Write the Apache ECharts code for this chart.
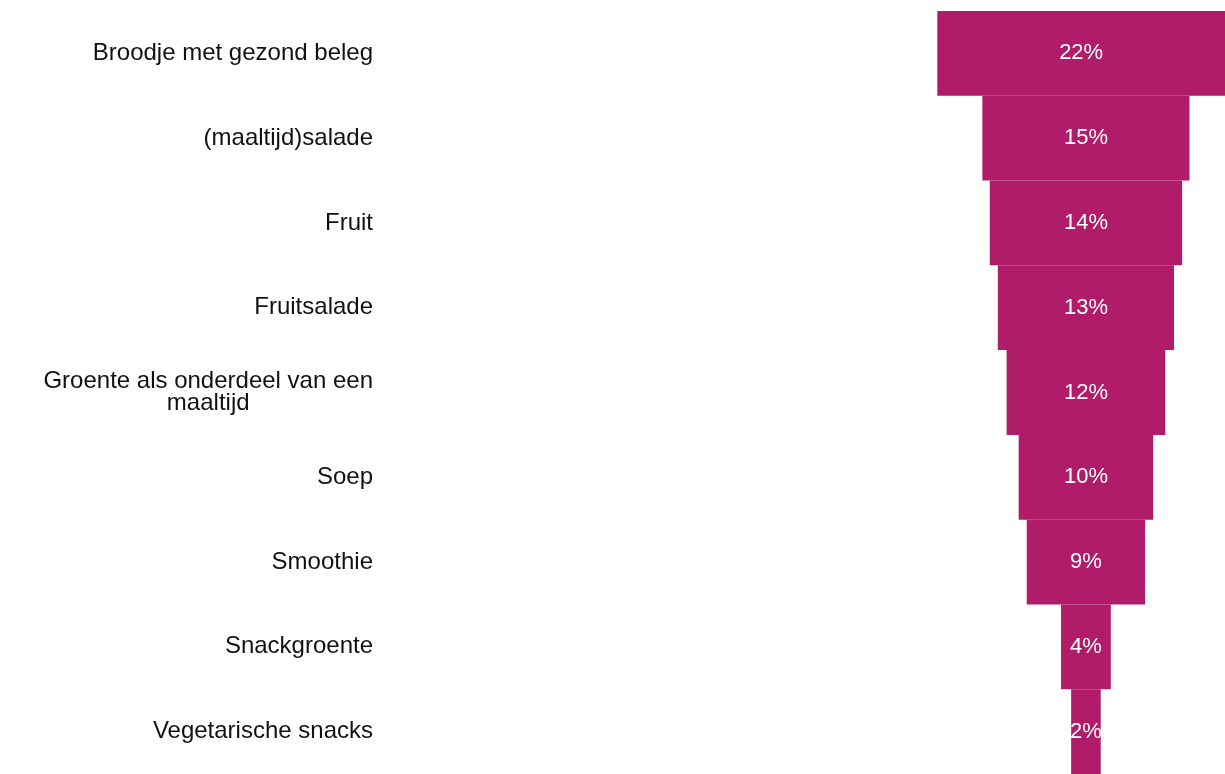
<!DOCTYPE html>
<html>
<head>
<meta charset="utf-8">
<script src="https://cdn.jsdelivr.net/npm/echarts@6/dist/echarts.min.js"></script>
<style>
html,body{margin:0;padding:0;background:#ffffff;}
#chart{width:1225px;height:774px;}
</style>
</head>
<body>
<div id="chart"></div>
<script>
const categories = [
  'Broodje met gezond beleg',
  '(maaltijd)salade',
  'Fruit',
  'Fruitsalade',
  'Groente als onderdeel van een\nmaaltijd',
  'Soep',
  'Smoothie',
  'Snackgroente',
  'Vegetarische snacks'
];
const values = [22.1, 15.4, 14.3, 13.1, 11.8, 10.0, 8.8, 3.7, 2.2];
const valueLabels = ['22%', '15%', '14%', '13%', '12%', '10%', '9%', '4%', '2%'];

const CENTER = 52.04;   // funnel axis centre in value units
const AXIS_MAX = 62.38;

const offsets = values.map(v => CENTER - v / 2);

const chart = echarts.init(document.getElementById('chart'), null, {renderer: 'canvas'});
chart.setOption({
  animation: false,
  backgroundColor: '#ffffff',
  grid: {left: 386, right: 0, top: 11, height: 766, containLabel: false},
  xAxis: {
    type: 'value', min: 0, max: AXIS_MAX, show: false
  },
  yAxis: {
    type: 'category',
    inverse: true,
    data: categories,
    axisLine: {show: false},
    axisTick: {show: false},
    splitLine: {show: false},
    axisLabel: {
      margin: 13,
      align: 'right',
      fontFamily: 'Liberation Sans',
      fontSize: 24,
      color: '#111111',
      lineHeight: 22,
      formatter: function (val) {
        return val.split('\n').map(s => '{c|' + s + '}').join('\n');
      },
      rich: {
        c: {align: 'center', fontFamily: 'Liberation Sans', fontSize: 24, color: '#111111', lineHeight: 22}
      }
    }
  },
  series: [
    {
      type: 'bar',
      stack: 'f',
      data: offsets,
      itemStyle: {color: 'transparent'},
      barWidth: '100%',
      silent: true
    },
    {
      type: 'bar',
      stack: 'f',
      data: values,
      barWidth: '100%',
      itemStyle: {color: '#B01C6A'},
      label: {
        show: true,
        position: 'inside',
        color: '#ffffff',
        fontFamily: 'Liberation Sans',
        fontSize: 22,
        formatter: p => valueLabels[p.dataIndex]
      }
    }
  ]
});
</script>
</body>
</html>
